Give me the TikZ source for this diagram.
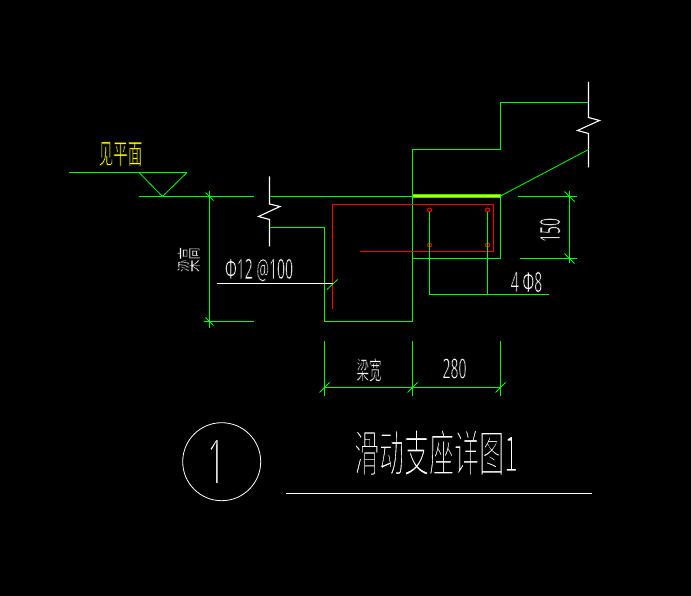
\documentclass[tikz,border=0pt]{standalone}
\usepackage{fontspec}
\setmainfont{Noto Sans}
\newfontfamily\cjk{Noto Sans CJK SC}
\definecolor{cadgreen}{RGB}{0,255,0}
\definecolor{cadred}{RGB}{255,0,0}
\definecolor{cadyellow}{RGB}{255,255,0}
\newcommand{\thintext}[2]{\special{pdf:code 2 Tr #1 w 0 0 0 RG}#2}
\tikzset{
  wall/.style={draw=cadgreen, line width=1.1pt},
  tick/.style={draw=cadgreen, line width=.8pt},
  rebar/.style={draw=cadred, line width=1.1pt},
  breakline/.style={draw=white, line width=1.1pt},
  bar/.style={draw=cadred, circle, line width=1pt, minimum size=4pt, inner sep=0pt},
  cadtext/.style={text=white, inner sep=0pt, transform shape}
}
\begin{document}
\begin{tikzpicture}[x=1pt, y=-1pt]
\fill[black] (0,0) rectangle (691,596);
\useasboundingbox (0,0) rectangle (691,596);
\draw[wall] (69,172.5) -- (187,172.5);
\draw[tick] (139,172.5) -- (162.5,196.5) -- (187,172.5);
\draw[wall] (139,196.5) -- (254,196.5);
\draw[wall] (270,196.5) -- (412.5,196.5);
\draw[wall] (204,321.5) -- (254,321.5);
\draw[wall] (209.5,191) -- (209.5,328);
\draw[tick] (205.5,192.5) -- (213.5,200.5);
\draw[tick] (205.5,317.5) -- (213.5,325.5);
\draw[breakline] (269.5,176.5) -- (269.5,204) -- (280,206.5) -- (258.5,216.5) -- (269.5,219.5) -- (269.5,246.5);
\draw[wall] (270,227.5) -- (324.5,227.5) -- (324.5,321.5) -- (412.5,321.5);
\draw[wall] (412.5,321.5) -- (412.5,149.5) -- (500.5,149.5) -- (500.5,102.5) -- (588.5,102.5);
\draw[breakline] (588.5,82) -- (588.5,117.5) -- (599.5,120.5) -- (577.5,130.5) -- (588.5,133.5) -- (588.5,167.5);
\draw[tick] (500.5,196) -- (588.5,149.5);
\draw[wall] (412.5,258.5) -- (500.5,258.5) -- (500.5,195);
\draw[cadgreen, line width=4pt] (412.5,196) -- (500.5,196);
\draw[cadyellow, line width=2pt] (413,196) -- (500,196);
\draw[rebar] (332.5,308.5) -- (332.5,204.5) -- (493.5,204.5) -- (493.5,251.5) -- (360,251.5);
\node[bar] (bar1) at (429.5,210) {};
\node[bar] (bar2) at (487.5,210) {};
\node[bar] (bar3) at (429.5,245) {};
\node[bar] (bar4) at (487.5,245) {};
\coordinate (lead1) at (429.5,294.5);
\coordinate (lead2) at (487.5,294.5);
\coordinate (lead3) at (549,294.5);
\draw[wall] (bar1) -- (lead1);
\draw[wall] (bar2) -- (lead2);
\draw[wall] (lead1) -- (lead3);
\draw[breakline] (217,283.5) -- (332.5,283.5);
\draw[tick] (327,289.5) -- (337.5,279.5);
\draw[wall] (518,196.5) -- (576.5,196.5);
\draw[wall] (520,258.5) -- (576.5,258.5);
\draw[wall] (569.5,191) -- (569.5,263.5);
\draw[tick] (564.5,191.5) -- (574.5,201.5);
\draw[tick] (564.5,253.5) -- (574.5,263.5);
\draw[wall] (324.5,341) -- (324.5,396);
\draw[wall] (412.5,341) -- (412.5,396);
\draw[wall] (500.5,341) -- (500.5,396);
\draw[wall] (324.5,387.5) -- (500.5,387.5);
\draw[tick] (319.5,392.5) -- (329.5,382.5);
\draw[tick] (407.5,392.5) -- (417.5,382.5);
\draw[tick] (495.5,392.5) -- (505.5,382.5);
\node[cadtext, text=cadyellow, font=\cjk\fontsize{28}{28}\selectfont, xscale=.52] (plan) at (120.5,154) {\thintext{.6}{见平面}};
\node[cadtext, font=\cjk\fontsize{25}{25}\selectfont, rotate=90, xscale=.5] (height) at (188.5,259.5) {\thintext{.5}{梁高}};
\node[cadtext, font=\fontsize{28}{28}\selectfont, xscale=.5] (stirrup) at (259,270) {\thintext{.6}{Φ12 @100}};
\node[cadtext, font=\fontsize{28}{28}\selectfont, xscale=.5] (main) at (526.5,282) {\thintext{.6}{4 Φ8}};
\node[cadtext, font=\fontsize{28}{28}\selectfont, rotate=90, xscale=.5] (dimh) at (550,230) {\thintext{.6}{150}};
\node[cadtext, font=\cjk\fontsize{25}{25}\selectfont, xscale=.5] (width) at (369,370) {\thintext{.5}{梁宽}};
\node[cadtext, font=\fontsize{28}{28}\selectfont, xscale=.5] (dimw) at (454.5,368.5) {\thintext{.6}{280}};
\node[draw=white, circle, line width=.8pt, minimum size=78pt, inner sep=0pt] (mark) at (221.7,461.7) {};
\node[cadtext, font=\fontsize{64}{64}\selectfont, xscale=.5] (num) at (216,461.7) {\thintext{2.6}{1}};
\node[cadtext, font=\cjk\fontsize{50}{50}\selectfont, xscale=.5] (title) at (436,452.5) {\thintext{1.8}{滑动支座详图1}};
\coordinate (rule1) at (286,493.5);
\coordinate (rule2) at (592,493.5);
\draw[breakline] (rule1) -- (rule2);
\end{tikzpicture}
\end{document}
